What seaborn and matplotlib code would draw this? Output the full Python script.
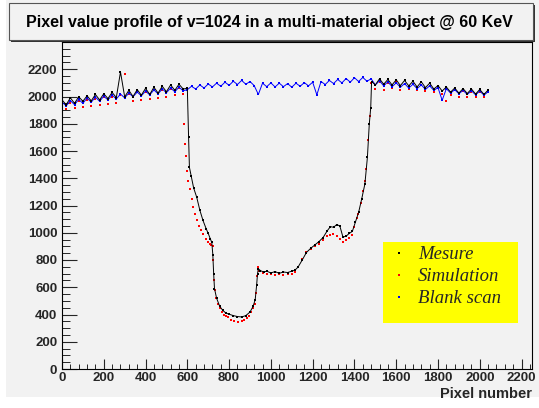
import matplotlib
matplotlib.use("Agg")
import matplotlib.pyplot as plt
import seaborn as sns
from matplotlib.patches import Rectangle
from matplotlib.lines import Line2D
from matplotlib.ticker import MultipleLocator

# =============================================================================
# DATA  (pixel number -> pixel value)
# =============================================================================

# --- Mesure (black) ---
mesure_x = (list(range(0, 600, 20))
            + [600, 606, 610, 618, 630, 645, 660, 675, 690, 700,
               710, 717, 722, 726, 730, 740, 755, 770, 785, 800,
               820, 840, 860, 880, 900, 915, 925, 932, 936, 940,
               950, 965, 980, 1000, 1020, 1040, 1060, 1080, 1100, 1115,
               1130, 1150, 1170, 1190, 1210, 1230, 1250, 1270, 1285, 1300,
               1315, 1330, 1345, 1360, 1375, 1390, 1405, 1420, 1435, 1450,
               1462, 1471, 1478, 1482]
            + list(range(1500, 2041, 20)))
mesure_y = [1975, 1940, 1990, 1950, 1998, 1965, 2005, 1968, 2015, 1975,
            2020, 1985, 2030, 1992, 2180, 1998, 2045, 2000, 2050, 2010,
            2060, 2015, 2068, 2025, 2075, 2035, 2085, 2045, 2090, 2055,
            # drop / absorbing part
            2060, 1700, 1480, 1420, 1330, 1260, 1165, 1090, 1030, 995,
            955, 930, 840, 700, 590, 520, 460, 430, 410, 402,
            392, 385, 382, 392, 418, 460, 510, 620, 700, 735,
            722, 712, 718, 705, 715, 702, 712, 708, 718, 725,
            748, 800, 855, 885, 910, 935, 965, 1015, 1045, 1040,
            1060, 1050, 968, 975, 995, 1010, 1080, 1150, 1250, 1358,
            1553, 1797, 1919, 2110,
            # right plateau
            2085, 2130, 2090, 2125, 2085, 2122, 2080, 2118, 2078, 2112,
            2070, 2108, 2065, 2098, 2055, 2080, 2040, 2070, 2032, 2062,
            2025, 2058, 2022, 2055, 2018, 2052, 2015, 2048]

# --- Simulation (red) ---
sim_x = ([0] + list(range(0, 600, 20))
         + [584, 588, 592, 598, 605, 612, 620, 629, 637, 645,
            655, 665, 676, 690, 700, 708, 715, 721, 725, 729,
            732, 738, 745, 755, 765, 775, 785, 796, 810, 825,
            844, 860, 872, 884, 895, 905, 915, 924, 930, 934,
            938, 945, 960, 980, 1000, 1020, 1040, 1060, 1080, 1100,
            1115, 1130, 1150, 1170, 1190, 1210, 1230, 1250, 1267, 1285,
            1299, 1315, 1330, 1347, 1360, 1375, 1387, 1400, 1410, 1418,
            1430, 1442, 1450, 1457, 1462, 1467, 1471, 1475, 1478]
         + list(range(1480, 2041, 20)))
sim_y = [0,
         1960, 1905, 1950, 1912, 1965, 1925, 1975, 1930, 1985, 1940,
         1995, 1948, 2000, 1955, 2010, 2165, 2020, 1965, 2030, 1975,
         2035, 1985, 2045, 1992, 2050, 2000, 2058, 2008, 2062, 2015,
         1800, 1650, 1560, 1450, 1383, 1320, 1250, 1187, 1139, 1095,
         1050, 1020, 993, 955, 930, 919, 910, 905, 800, 650,
         578, 520, 480, 445, 418, 400, 388, 378, 362, 352,
         346, 350, 358, 371, 390, 415, 445, 480, 560, 680,
         745, 720, 705, 698, 700, 692, 698, 690, 695, 700,
         712, 748, 805, 858, 880, 900, 915, 945, 975, 985,
         993, 978, 955, 931, 945, 965, 980, 1045, 1110, 1139,
         1220, 1309, 1380, 1470, 1553, 1680, 1797, 1860, 1919,
         2100, 2055, 2110, 2050, 2100, 2060, 2105, 2050, 2095, 2055,
         2090, 2045, 2085, 2040, 2075, 2035, 2060, 2020, 1965, 2010,
         2045, 2000, 2040, 1995, 2035, 1995, 2035, 1998, 2040]

# --- Blank scan (blue) ---
blank_x = list(range(0, 2041, 20))
blank_y = [1960, 1930, 1970, 1940, 1978, 1950, 1988, 1958, 1995, 1965,
           2002, 1975, 2010, 1982, 2018, 1990, 2025, 1998, 2032, 2005,
           2040, 2012, 2048, 2020, 2055, 2028, 2062, 2035, 2068, 2042,
           2050, 2075, 2055, 2085, 2062, 2092, 2070, 2098, 2075, 2105,
           2082, 2112, 2088, 2118, 2090, 2110, 2080, 2015, 2098, 2072,
           2100, 2070, 2098, 2072, 2095, 2068, 2098, 2075, 2102, 2078,
           2105, 2012, 2110, 2088, 2118, 2095, 2125, 2100, 2132, 2105,
           2138, 2110, 2140, 2112,
           2130, 2085, 2115, 2078, 2108, 2072, 2100, 2068, 2095, 2062,
           2090, 2058, 2085, 2052, 2078, 2045, 2065, 1972, 2058, 2025,
           2050, 2020, 2045, 2015, 2042, 2012, 2040, 2010, 2035]

legend_labels = ["Mesure", "Simulation", "Blank scan"]
series_colors = ["black", "red", "blue"]
title_text = "Pixel value profile of v=1024 in a multi-material object @ 60 KeV"

# =============================================================================
# FIGURE
# =============================================================================

sns.set_theme(style="ticks")
plt.rcParams['font.family'] = ['Liberation Sans', 'DejaVu Sans']
plt.rcParams['font.weight'] = 'bold'

BG = "#f2f2f2"
fig = plt.figure(figsize=(5.39, 4.08), dpi=100, facecolor="white")
fig.patches.append(Rectangle((6 / 539, 11 / 408), 1, 1, transform=fig.transFigure,
                             facecolor=BG, edgecolor="none", zorder=-10))

ax = fig.add_axes([62 / 539, 39 / 408, 470 / 539, 327 / 408])
ax.set_facecolor(BG)

sns.lineplot(x=blank_x, y=blank_y, color="blue", lw=0.7, marker="s", markersize=1.6,
             markeredgewidth=0, estimator=None, sort=False, ax=ax)
sns.scatterplot(x=sim_x, y=sim_y, color="red", marker="s", s=4.5, linewidth=0, ax=ax)
sns.lineplot(x=mesure_x, y=mesure_y, color="black", lw=0.7, marker="s", markersize=1.6,
             markeredgewidth=0, estimator=None, sort=False, ax=ax)

ax.set_xlim(0, 2250)
ax.set_ylim(0, 2400)
ax.xaxis.set_major_locator(MultipleLocator(200))
ax.xaxis.set_minor_locator(MultipleLocator(40))
ax.yaxis.set_major_locator(MultipleLocator(200))
ax.yaxis.set_minor_locator(MultipleLocator(50))
ax.set_yticks(range(0, 2201, 200))
ax.tick_params(axis="y", which="major", direction="in", length=10.8, width=0.8,
               pad=3.4, labelsize=9.5, right=False)
ax.tick_params(axis="y", which="minor", direction="in", length=5.8, width=0.7, right=False)
ax.tick_params(axis="x", which="major", direction="in", length=7.2, width=0.8,
               pad=2.5, labelsize=9.5, top=False)
ax.tick_params(axis="x", which="minor", direction="in", length=3.6, width=0.7, top=False)
for lab in ax.get_xticklabels() + ax.get_yticklabels():
    lab.set_fontweight("bold")
for sp in ax.spines.values():
    sp.set_visible(True)
    sp.set_color("black")
    sp.set_linewidth(0.8)

ax.set_xlabel("Pixel number", loc="right", fontsize=10.5, fontweight="bold", labelpad=2)
ax.set_ylabel("")

# legend box (yellow)
ax.add_patch(Rectangle((0.683, 0.1407), 0.287, 0.2477, transform=ax.transAxes,
                       facecolor="#ffff00", edgecolor="none", zorder=4))
handles = [Line2D([], [], ls="none", marker="s", markersize=1.6, markeredgewidth=0, color=c)
           for c in series_colors]
ax.legend(handles, legend_labels, loc="upper left", bbox_to_anchor=(0.698, 0.376),
          frameon=False, borderpad=0, borderaxespad=0, handlelength=1.0,
          handletextpad=0.5, labelspacing=0.26,
          prop={"family": "Liberation Serif", "style": "italic", "weight": "normal", "size": 13.5})

# title pave with shadow
fig.patches.append(Rectangle((11 / 539, (408 - 42) / 408), 524 / 539, 37 / 408,
                             transform=fig.transFigure, facecolor="#333333",
                             edgecolor="none", zorder=1))
fig.patches.append(Rectangle((9 / 539, (408 - 40) / 408), 524 / 539, 37 / 408,
                             transform=fig.transFigure, facecolor=BG,
                             edgecolor="#555555", linewidth=0.8, zorder=2))
fig.text(269 / 539, (408 - 22) / 408, title_text, ha="center", va="center",
         fontsize=11.5, fontweight="bold", color="black", zorder=3)

fig.savefig("out.png", dpi=100, facecolor=fig.get_facecolor())
